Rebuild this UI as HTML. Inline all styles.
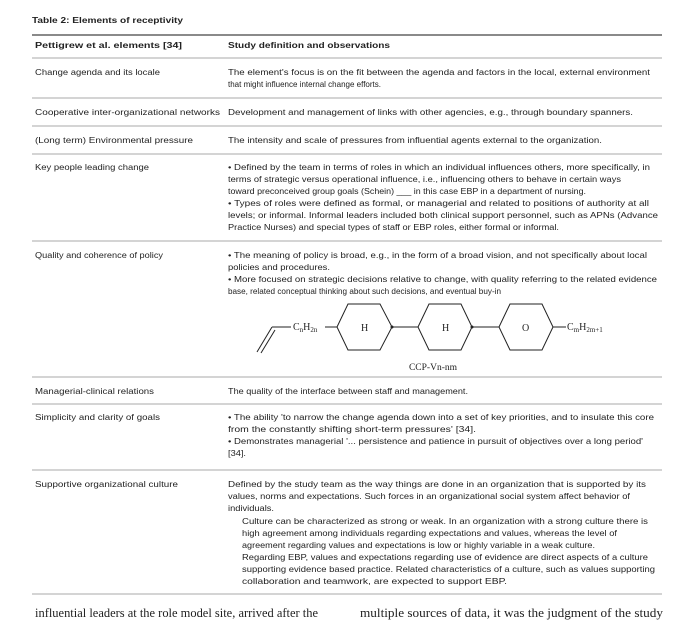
<!DOCTYPE html>
<html><head><meta charset="utf-8"><style>
body{margin:0;background:#fff;}
svg{display:block;}
text{font-family:"Liberation Sans",sans-serif;font-size:8.6px;fill:#222;}
.b{font-weight:bold;}
.s{font-family:"Liberation Serif",serif;}
</style></head><body>
<svg width="694" height="624" viewBox="0 0 694 624" xmlns="http://www.w3.org/2000/svg">
<g stroke="#aaa" stroke-width="1">
<line x1="32" y1="58" x2="662" y2="58"/>
<line x1="32" y1="98" x2="662" y2="98"/>
<line x1="32" y1="126" x2="662" y2="126"/>
<line x1="32" y1="154" x2="662" y2="154"/>
<line x1="32" y1="241" x2="662" y2="241"/>
<line x1="32" y1="377" x2="662" y2="377"/>
<line x1="32" y1="404" x2="662" y2="404"/>
<line x1="32" y1="470" x2="662" y2="470"/>
<line x1="32" y1="594" x2="662" y2="594"/>
</g>
<line x1="32" y1="35" x2="662" y2="35" stroke="#444" stroke-width="1.3"/>

<text class="b" x="32" y="23" textLength="151" lengthAdjust="spacingAndGlyphs">Table 2: Elements of receptivity</text>
<text class="b" x="35" y="48" textLength="147" lengthAdjust="spacingAndGlyphs">Pettigrew et al. elements [34]</text>
<text class="b" x="228" y="48" textLength="162" lengthAdjust="spacingAndGlyphs">Study definition and observations</text>

<g lengthAdjust="spacingAndGlyphs">
<text x="35" y="75" textLength="125" lengthAdjust="spacingAndGlyphs">Change agenda and its locale</text>
<text x="228" y="75" textLength="422" lengthAdjust="spacingAndGlyphs">The element's focus is on the fit between the agenda and factors in the local, external environment</text>
<text x="228" y="87" textLength="153" lengthAdjust="spacingAndGlyphs">that might influence internal change efforts.</text>

<text x="35" y="115" textLength="185" lengthAdjust="spacingAndGlyphs">Cooperative inter-organizational networks</text>
<text x="228" y="115" textLength="405" lengthAdjust="spacingAndGlyphs">Development and management of links with other agencies, e.g., through boundary spanners.</text>

<text x="35" y="143" textLength="158" lengthAdjust="spacingAndGlyphs">(Long term) Environmental pressure</text>
<text x="228" y="143" textLength="374" lengthAdjust="spacingAndGlyphs">The intensity and scale of pressures from influential agents external to the organization.</text>

<text x="35" y="170" textLength="114" lengthAdjust="spacingAndGlyphs">Key people leading change</text>
<text x="228" y="170" textLength="422" lengthAdjust="spacingAndGlyphs">• Defined by the team in terms of roles in which an individual influences others, more specifically, in</text>
<text x="228" y="182" textLength="393" lengthAdjust="spacingAndGlyphs">terms of strategic versus operational influence, i.e., influencing others to behave in certain ways</text>
<text x="228" y="194" textLength="358" lengthAdjust="spacingAndGlyphs">toward preconceived group goals (Schein) ___ in this case EBP in a department of nursing.</text>
<text x="228" y="206" textLength="421" lengthAdjust="spacingAndGlyphs">• Types of roles were defined as formal, or managerial and related to positions of authority at all</text>
<text x="228" y="218" textLength="430" lengthAdjust="spacingAndGlyphs">levels; or informal. Informal leaders included both clinical support personnel, such as APNs (Advance</text>
<text x="228" y="230" textLength="331" lengthAdjust="spacingAndGlyphs">Practice Nurses) and special types of staff or EBP roles, either formal or informal.</text>

<text x="35" y="258" textLength="128" lengthAdjust="spacingAndGlyphs">Quality and coherence of policy</text>
<text x="228" y="258" textLength="419" lengthAdjust="spacingAndGlyphs">• The meaning of policy is broad, e.g., in the form of a broad vision, and not specifically about local</text>
<text x="228" y="270" textLength="102" lengthAdjust="spacingAndGlyphs">policies and procedures.</text>
<text x="228" y="282" textLength="429" lengthAdjust="spacingAndGlyphs">• More focused on strategic decisions relative to change, with quality referring to the related evidence</text>
<text x="228" y="294" textLength="273" lengthAdjust="spacingAndGlyphs">base, related conceptual thinking about such decisions, and eventual buy-in</text>

<text x="35" y="394" textLength="119" lengthAdjust="spacingAndGlyphs">Managerial-clinical relations</text>
<text x="228" y="394" textLength="240" lengthAdjust="spacingAndGlyphs">The quality of the interface between staff and management.</text>

<text x="35" y="420" textLength="125" lengthAdjust="spacingAndGlyphs">Simplicity and clarity of goals</text>
<text x="228" y="420" textLength="426" lengthAdjust="spacingAndGlyphs">• The ability 'to narrow the change agenda down into a set of key priorities, and to insulate this core</text>
<text x="228" y="432" textLength="248" lengthAdjust="spacingAndGlyphs">from the constantly shifting short-term pressures' [34].</text>
<text x="228" y="444" textLength="415" lengthAdjust="spacingAndGlyphs">• Demonstrates managerial '... persistence and patience in pursuit of objectives over a long period'</text>
<text x="228" y="456" textLength="18" lengthAdjust="spacingAndGlyphs">[34].</text>

<text x="35" y="487" textLength="143" lengthAdjust="spacingAndGlyphs">Supportive organizational culture</text>
<text x="228" y="487" textLength="418" lengthAdjust="spacingAndGlyphs">Defined by the study team as the way things are done in an organization that is supported by its</text>
<text x="228" y="499" textLength="402" lengthAdjust="spacingAndGlyphs">values, norms and expectations. Such forces in an organizational social system affect behavior of</text>
<text x="228" y="511" textLength="46" lengthAdjust="spacingAndGlyphs">individuals.</text>
<text x="242" y="524" textLength="406" lengthAdjust="spacingAndGlyphs">Culture can be characterized as strong or weak. In an organization with a strong culture there is</text>
<text x="242" y="536" textLength="375" lengthAdjust="spacingAndGlyphs">high agreement among individuals regarding expectations and values, whereas the level of</text>
<text x="242" y="548" textLength="353" lengthAdjust="spacingAndGlyphs">agreement regarding values and expectations is low or highly variable in a weak culture.</text>
<text x="242" y="560" textLength="406" lengthAdjust="spacingAndGlyphs">Regarding EBP, values and expectations regarding use of evidence are direct aspects of a culture</text>
<text x="242" y="572" textLength="413" lengthAdjust="spacingAndGlyphs">supporting evidence based practice. Related characteristics of a culture, such as values supporting</text>
<text x="242" y="584" textLength="265" lengthAdjust="spacingAndGlyphs">collaboration and teamwork, are expected to support EBP.</text>
</g>

<text class="s" x="35" y="617" style="font-size:12.5px" textLength="283" lengthAdjust="spacingAndGlyphs">influential leaders at the role model site, arrived after the</text>
<text class="s" x="360" y="617" style="font-size:12.5px" textLength="303" lengthAdjust="spacingAndGlyphs">multiple sources of data, it was the judgment of the study</text>

<!-- molecule -->
<g stroke="#222" stroke-width="1" fill="none">
<line x1="257" y1="352" x2="272" y2="327"/>
<line x1="261" y1="353" x2="275" y2="330"/>
<line x1="272" y1="327" x2="291" y2="327"/>
<line x1="325" y1="327" x2="337" y2="327"/>
<polygon points="337,327 348,304 380,304 392,327 380,350 348,350"/>
<line x1="392" y1="327" x2="418" y2="327"/>
<polygon points="418,327 429,304 461,304 472,327 461,350 429,350"/>
<line x1="472" y1="327" x2="499" y2="327"/>
<polygon points="499,327 510,304 542,304 553,327 542,350 510,350"/>
<line x1="553" y1="327" x2="566" y2="327"/>
</g>
<circle cx="392" cy="327" r="1.5" fill="#222"/>
<circle cx="472" cy="327" r="1.5" fill="#222"/>
<g class="s">
<text class="s" x="293" y="330" style="font-size:10px">C<tspan style="font-size:7px" dy="2">n</tspan><tspan dy="-2">H</tspan><tspan style="font-size:7px" dy="2">2n</tspan></text>
<text class="s" x="361" y="331" style="font-size:10px">H</text>
<text class="s" x="442" y="331" style="font-size:10px">H</text>
<text class="s" x="522" y="331" style="font-size:10px">O</text>
<text class="s" x="567" y="330" style="font-size:10px">C<tspan style="font-size:7px" dy="2">m</tspan><tspan dy="-2">H</tspan><tspan style="font-size:7px" dy="2">2m+1</tspan></text>
<text class="s" x="433" y="370" text-anchor="middle" style="font-size:9.5px">CCP-Vn-nm</text>
</g>
</svg>
</body></html>
